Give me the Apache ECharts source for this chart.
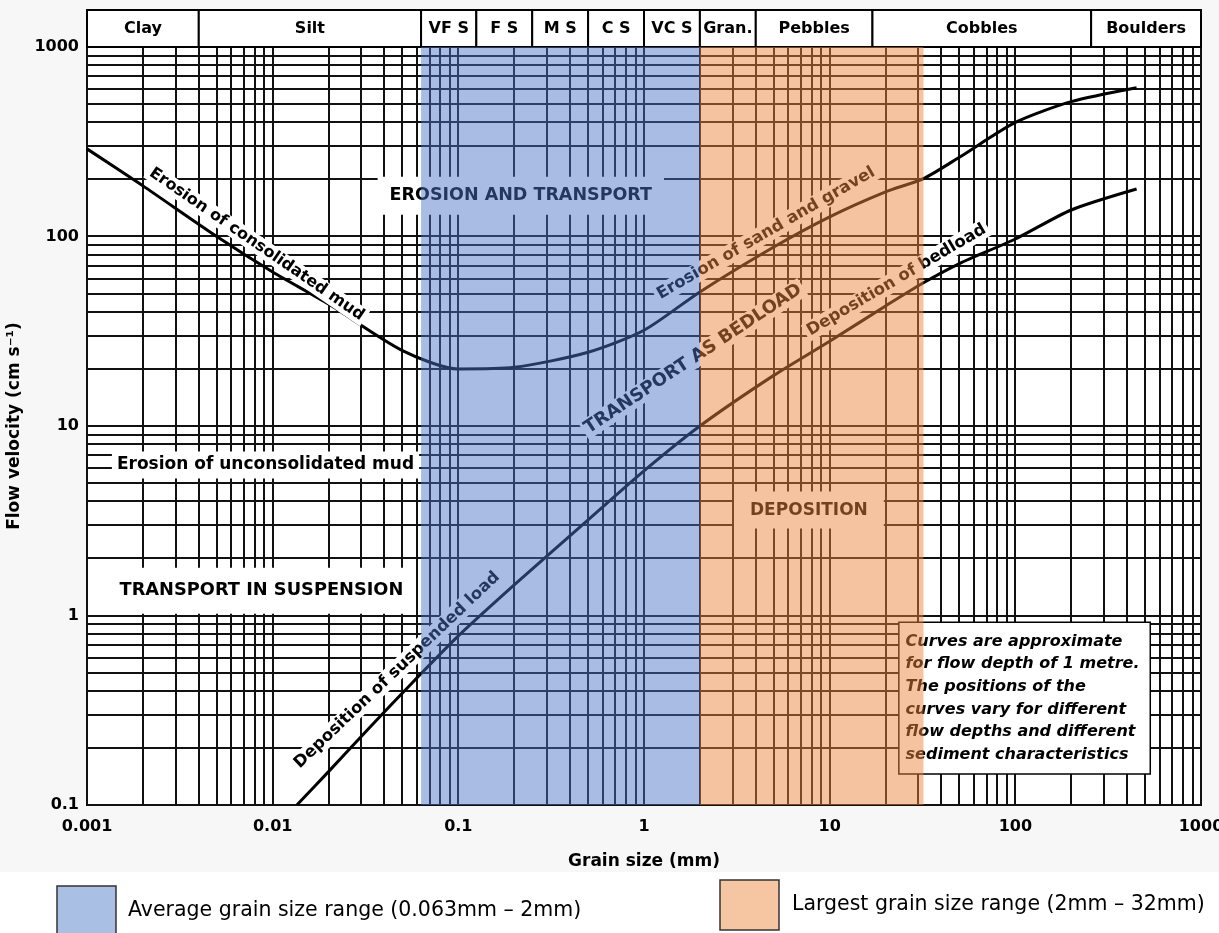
<!DOCTYPE html>
<html>
<head>
<meta charset="utf-8">
<script src="https://cdn.jsdelivr.net/npm/echarts@6/dist/echarts.min.js"></script>
<style>
html,body{margin:0;padding:0;background:#fff;}
#c{width:1219px;height:933px;}
</style>
</head>
<body>
<div id="c"></div>
<script>
// ---------------- data ----------------
const xTickLabels = ['0.001', '0.01', '0.1', '1', '10', '100', '1000'];
const yTickLabels = ['0.1', '1', '10', '100', '1000'];

const sizeClassNames = ['Clay', 'Silt', 'VF S', 'F S', 'M S', 'C S', 'VC S', 'Gran.', 'Pebbles', 'Cobbles', 'Boulders'];
const sizeClassBounds = [0.001, 0.004, 0.063, 0.125, 0.25, 0.5, 1, 2, 4, 17, 256, 1000];

// Erosion of consolidated mud / sand and gravel (upper curve)
const erosionGrain    = [0.001, 0.002, 0.005, 0.01, 0.02, 0.05, 0.1, 0.2, 0.5, 1, 2, 5, 10, 20, 32, 50, 100, 200, 450];
const erosionVelocity = [290, 185, 100, 65, 44, 25, 20, 20.4, 24.5, 32, 51, 88, 127, 172, 202, 262, 400, 515, 610];

// Deposition of suspended load / bedload (lower curve)
const depositionGrain    = [0.0135, 0.02, 0.03, 0.05, 0.1, 0.2, 0.5, 1, 2, 5, 10, 20, 32, 50, 100, 200, 450];
const depositionVelocity = [0.1, 0.15, 0.23, 0.39, 0.78, 1.45, 3.2, 5.8, 10, 18.5, 28, 43, 57, 72, 97, 138, 178];

const averageRange = [0.063, 2];
const largestRange = [2, 32];

const legendLabels = ['Average grain size range (0.063mm \u2013 2mm)', 'Largest grain size range (2mm \u2013 32mm)'];
const noteLines = ['Curves are approximate', 'for flow depth of 1 metre.', 'The positions of the', 'curves vary for different', 'flow depths and different', 'sediment characteristics'];

const gridMantissas = [1, 2, 3, 4, 5, 6, 7, 8, 9];

// ---------------- layout / style ----------------
const X_MIN = 0.001, X_MAX = 1000, Y_MIN = 0.1, Y_MAX = 1000;
const FONT = '"DejaVu Sans", sans-serif';
const HEADER_H = 37;

const annotations = [
  {text: 'EROSION AND TRANSPORT', at: [0.217, 164], rot: 0, size: 17.5, pad: [10, 12]},
  {text: 'Erosion of consolidated mud', at: [0.0082, 91], rot: -34.5, size: 16, pad: [1, 3]},
  {text: 'Erosion of sand and gravel', at: [4.54, 104], rot: 30, size: 16.5, pad: [1, 3]},
  {text: 'TRANSPORT AS BEDLOAD', at: [1.84, 22.6], rot: 33.5, size: 18, pad: [1, 3]},
  {text: 'Deposition of bedload', at: [22.9, 58.9], rot: 30.5, size: 16.5, pad: [1, 3]},
  {text: 'Deposition of suspended load', at: [0.0468, 0.515], rot: 43.6, size: 16.5, pad: [1, 3]},
  {text: 'Erosion of unconsolidated mud', at: [0.00915, 6.22], rot: 0, size: 17, pad: [5, 5]},
  {text: 'TRANSPORT IN SUSPENSION', at: [0.0087, 1.35], rot: 0, size: 17.8, pad: [14, 10]},
  {text: 'DEPOSITION', at: [7.73, 3.6], rot: 0, size: 17, pad: [10, 16]}
];
const noteAnchor = [23.8, 0.912];

// grid line list built from decades and mantissas
const gridLineItems = [];
for (let k = -3; k <= 2; k++) gridMantissas.forEach(m => gridLineItems.push({axis: 'x', value: +(m * Math.pow(10, k)).toPrecision(3)}));
gridLineItems.push({axis: 'x', value: 1000});
for (let k = -1; k <= 2; k++) gridMantissas.forEach(m => gridLineItems.push({axis: 'y', value: +(m * Math.pow(10, k)).toPrecision(3)}));
gridLineItems.push({axis: 'y', value: 1000});

function fmt(labels) {
  return function (v) {
    let best = labels[0], bd = Infinity;
    labels.forEach(l => { const d = Math.abs(Math.log10(+l) - Math.log10(v)); if (d < bd) { bd = d; best = l; } });
    return best;
  };
}

const chart = echarts.init(document.getElementById('c'), null, {renderer: 'canvas', width: 1219, height: 933});

const option = {
  animation: false,
  backgroundColor: '#ffffff',
  grid: {
    left: 87, right: 18, top: 47, bottom: 128,
    containLabel: false, outerBoundsMode: 'none',
    show: true, backgroundColor: '#ffffff', borderColor: '#000', borderWidth: 2
  },
  xAxis: {
    type: 'log', logBase: 10, min: X_MIN, max: X_MAX,
    name: 'Grain size (mm)', nameLocation: 'middle', nameGap: 48,
    nameTextStyle: {fontFamily: FONT, fontWeight: 'bold', fontSize: 17, color: '#000'},
    axisLine: {show: true, lineStyle: {color: '#000', width: 2}},
    axisTick: {show: false},
    splitLine: {show: false},
    minorSplitLine: {show: false},
    axisLabel: {fontFamily: FONT, fontWeight: 'bold', fontSize: 16, color: '#000', margin: 14, formatter: fmt(xTickLabels)}
  },
  yAxis: {
    type: 'log', logBase: 10, min: Y_MIN, max: Y_MAX,
    name: 'Flow velocity (cm s\u207B\u00B9)', nameLocation: 'middle', nameGap: 56,
    nameTextStyle: {fontFamily: FONT, fontWeight: 'bold', fontSize: 17, color: '#000'},
    axisLine: {show: true, lineStyle: {color: '#000', width: 2}},
    axisTick: {show: false},
    splitLine: {show: false},
    axisLabel: {fontFamily: FONT, fontWeight: 'bold', fontSize: 16, color: '#000', margin: 8, formatter: fmt(yTickLabels)}
  },
  graphic: [
    {type: 'rect', z: -100, silent: true, shape: {x: 0, y: 0, width: 1219, height: 872}, style: {fill: '#f7f7f7'}},
    {type: 'rect', shape: {x: 57, y: 886, width: 59, height: 60}, style: {fill: '#a9bfe4', stroke: '#333', lineWidth: 1.5}},
    {type: 'text', x: 128, y: 911, style: {text: legendLabels[0], font: '20.5px ' + FONT, fill: '#000', verticalAlign: 'middle'}},
    {type: 'rect', shape: {x: 720, y: 880, width: 59, height: 50}, style: {fill: '#f6c5a1', stroke: '#333', lineWidth: 1.5}},
    {type: 'text', x: 792, y: 905, style: {text: legendLabels[1], font: '20.5px ' + FONT, fill: '#000', verticalAlign: 'middle'}}
  ],
  series: [
    {
      name: 'grid lines', type: 'custom', z: 3, silent: true,
      data: gridLineItems.map(g => g.axis === 'x' ? [g.value, 1] : [1, g.value]),
      renderItem: function (params, api) {
        const g = gridLineItems[params.dataIndex];
        const tl = api.coord([X_MIN, Y_MAX]);
        const br = api.coord([X_MAX, Y_MIN]);
        if (g.axis === 'x') {
          const x = Math.round(api.coord([g.value, 1])[0]);
          return {type: 'line', shape: {x1: x, y1: tl[1], x2: x, y2: br[1]}, style: {stroke: '#111', lineWidth: 2}};
        }
        const y = Math.round(api.coord([1, g.value])[1]);
        return {type: 'line', shape: {x1: tl[0], y1: y, x2: br[0], y2: y}, style: {stroke: '#111', lineWidth: 2}};
      }
    },
    {
      name: 'Erosion', type: 'line', z: 10, smooth: 0.25, symbol: 'none', silent: true,
      lineStyle: {color: '#000', width: 3},
      data: erosionGrain.map((g, i) => [g, erosionVelocity[i]])
    },
    {
      name: 'Deposition', type: 'line', z: 10, smooth: 0.25, symbol: 'none', silent: true,
      lineStyle: {color: '#000', width: 3},
      data: depositionGrain.map((g, i) => [g, depositionVelocity[i]])
    },
    {
      name: 'annotations', type: 'custom', z: 20, silent: true,
      data: annotations.map(a => a.at),
      renderItem: function (params, api) {
        const a = annotations[params.dataIndex];
        const p = api.coord(a.at);
        return {
          type: 'text', x: p[0], y: p[1], rotation: a.rot * Math.PI / 180,
          style: {
            text: a.text, fill: '#000', font: 'bold ' + a.size + 'px ' + FONT,
            align: 'center', verticalAlign: 'middle',
            backgroundColor: '#ffffff', padding: a.pad
          }
        };
      }
    },
    {
      name: 'note', type: 'custom', z: 20, silent: true,
      data: [noteAnchor],
      renderItem: function (params, api) {
        const p = api.coord(noteAnchor);
        return {
          type: 'text', x: p[0], y: p[1],
          style: {
            text: noteLines.join('\n'), fill: '#000', font: 'italic bold 16px ' + FONT,
            lineHeight: 22.7, align: 'left', verticalAlign: 'top',
            backgroundColor: '#ffffff', borderColor: '#000', borderWidth: 1.5, padding: [7, 10, 7, 6]
          }
        };
      }
    },
    {
      name: 'header', type: 'custom', z: 30, silent: true,
      data: sizeClassNames.map((n, i) => [sizeClassBounds[i], sizeClassBounds[i + 1]]),
      renderItem: function (params, api) {
        const i = params.dataIndex;
        const a = api.coord([sizeClassBounds[i], Y_MAX]);
        const b = api.coord([sizeClassBounds[i + 1], Y_MAX]);
        const top = a[1] - HEADER_H;
        return {
          type: 'group', children: [
            {type: 'rect', shape: {x: a[0], y: top, width: b[0] - a[0], height: HEADER_H}, style: {fill: '#fff', stroke: '#000', lineWidth: 2}},
            {type: 'text', x: (a[0] + b[0]) / 2, y: top + HEADER_H / 2, style: {text: sizeClassNames[i], fill: '#000', font: 'bold 16px ' + FONT, align: 'center', verticalAlign: 'middle'}}
          ]
        };
      }
    },
    {
      name: 'ranges', type: 'custom', z: 100, silent: true,
      data: [averageRange, largestRange],
      renderItem: function (params, api) {
        const r = params.dataIndex === 0 ? averageRange : largestRange;
        const a = api.coord([r[0], Y_MAX]);
        const b = api.coord([r[1], Y_MIN]);
        return {
          type: 'rect', shape: {x: a[0], y: a[1], width: b[0] - a[0], height: b[1] - a[1]},
          style: {fill: params.dataIndex === 0 ? 'rgba(73,115,198,0.48)' : 'rgba(235,133,61,0.49)'}
        };
      }
    }
  ]
};

chart.setOption(option);
</script>
</body>
</html>
